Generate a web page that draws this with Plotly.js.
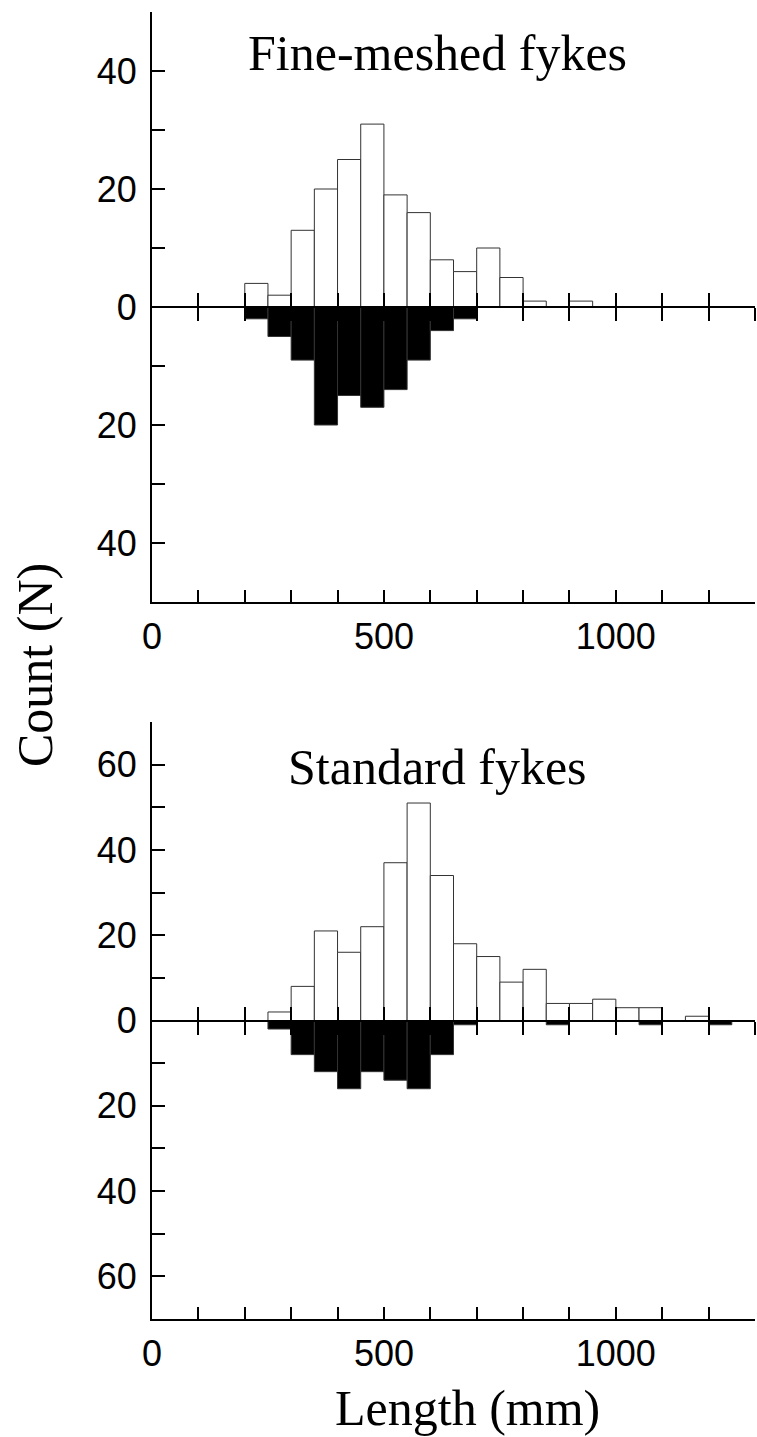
<!DOCTYPE html>
<html>
<head>
<meta charset="utf-8">
<script src="https://cdn.plot.ly/plotly-3.0.1.min.js"></script>
<style>html,body{margin:0;padding:0;background:#fff;}#chart{width:757px;height:1437px;}</style>
</head>
<body>
<div id="chart"></div>
<script>
// Bin start of each 50 mm length class (mm)
const binStart = [200,250,300,350,400,450,500,550,600,650,700,750,800,850,900,950,1000,1050,1100,1150,1200];
const binWidth = 50;
// Fine-meshed fykes: counts above (white) and below (black) the zero line
const fineAbove = [4,2,13,20,25,31,19,16,8,6,10,5,1,0,1,0,0,0,0,0,0];
const fineBelow = [2,5,9,20,15,17,14,9,4,2,0,0,0,0,0,0,0,0,0,0,0];
// Standard fykes
const stdAbove  = [0,2,8,21,16,22,37,51,34,18,15,9,12,4,4,5,3,3,0,1,0];
const stdBelow  = [0,2,8,12,16,12,14,16,8,1,0,0,0,1,0,0,0,1,0,0,1];
// Axis tick values / labels
const xTickVals = [0,100,200,300,400,500,600,700,800,900,1000,1100,1200,1300];
const xTickText = ['0','','','','','500','','','','','1000','','',''];
const yTopVals = [-50,-40,-30,-20,-10,0,10,20,30,40,50];
const yTopText = ['','40','','20','','0','','20','','40',''];
const yBotVals = [-70,-60,-50,-40,-30,-20,-10,0,10,20,30,40,50,60,70];
const yBotText = ['','60','','40','','20','','0','','20','','40','','60',''];

const W = 757, H = 1437;
const xDom = [152/W, 755/W];
const yDomTop = [1-602/H, 1-12/H];
const yDomBot = [1-1319/H, 1-722/H];
const zeroTop = (yDomTop[0]+yDomTop[1])/2;
const zeroBot = (yDomBot[0]+yDomBot[1])/2;

const tickFont = {family:'Liberation Sans, Arial, sans-serif', size:36, color:'#000'};
const serif = 'Liberation Serif, Times New Roman, serif';

function barTrace(vals, neg, xa, ya, fill){
  return {
    type:'bar', x: binStart, y: vals.map(v => neg ? -v : v),
    width: binWidth, offset: 0, xaxis: xa, yaxis: ya,
    marker:{color: fill, line:{color:'#333', width:1}},
    hoverinfo:'skip', showlegend:false
  };
}
function helper(xa, ya){
  return {type:'scatter', x:[], y:[], xaxis:xa, yaxis:ya, hoverinfo:'skip', showlegend:false};
}

const data = [
  barTrace(fineAbove, false, 'x', 'y', '#fff'),
  barTrace(fineBelow, true, 'x', 'y', '#000'),
  barTrace(stdAbove, false, 'x2', 'y2', '#fff'),
  barTrace(stdBelow, true, 'x2', 'y2', '#000'),
  helper('x3','y'), helper('x4','y'), helper('x5','y2'), helper('x6','y2')
];

function mainX(anchor){
  return {domain: xDom, range:[0,1300], anchor: anchor, showline:true, linewidth:2, linecolor:'#000',
    ticks:'inside', ticklen:12, tickwidth:2, tickcolor:'#000', tickvals:xTickVals, ticktext:xTickText,
    tickfont: tickFont, ticklabelstandoff: 2, showgrid:false, zeroline:false, fixedrange:true};
}
function mainY(anchor, dom, rng, vals, text){
  return {domain: dom, range: rng, anchor: anchor, showline:true, linewidth:2, linecolor:'#000',
    ticks:'inside', ticklen:13, tickwidth:2, tickcolor:'#000', tickvals: vals, ticktext: text,
    tickfont: tickFont, ticklabelstandoff: 6, showgrid:false, zeroline:false, fixedrange:true};
}
function zeroX(over, pos, dir){
  return {overlaying: over, anchor:'free', position: pos, range:[0,1300], side:'bottom',
    showline:true, linewidth:2, linecolor:'#000', ticks: dir, ticklen:13, tickwidth:2, tickcolor:'#000',
    tickvals: xTickVals.slice(1), showticklabels:false, showgrid:false, zeroline:false, fixedrange:true};
}

const layout = {
  width: W, height: H, margin:{l:0,r:0,t:0,b:0},
  paper_bgcolor:'#fff', plot_bgcolor:'rgba(0,0,0,0)',
  barmode:'overlay', bargap:0, showlegend:false,
  xaxis: mainX('y'),
  yaxis: mainY('x', yDomTop, [-50,50], yTopVals, yTopText),
  xaxis2: mainX('y2'),
  yaxis2: mainY('x2', yDomBot, [-70,70], yBotVals, yBotText),
  xaxis3: zeroX('x', zeroTop, 'outside'),
  xaxis4: zeroX('x', zeroTop, 'inside'),
  xaxis5: zeroX('x2', zeroBot, 'outside'),
  xaxis6: zeroX('x2', zeroBot, 'inside'),
  annotations: [
    {text:'Fine-meshed fykes', xref:'x', yref:'y', x:615, y:43, showarrow:false,
     font:{family:serif, size:50, color:'#000'}, xanchor:'center', yanchor:'middle'},
    {text:'Standard fykes', xref:'x2', yref:'y2', x:615, y:59.5, showarrow:false,
     font:{family:serif, size:50, color:'#000'}, xanchor:'center', yanchor:'middle'},
    {text:'Count (N)', xref:'paper', yref:'paper', x:35/W, y:1-665/H, textangle:-90, showarrow:false,
     font:{family:serif, size:50, color:'#000'}, xanchor:'center', yanchor:'middle'},
    {text:'Length (mm)', xref:'paper', yref:'paper', x:467/W, y:1-1408/H, showarrow:false,
     font:{family:serif, size:50, color:'#000'}, xanchor:'center', yanchor:'middle'}
  ]
};

Plotly.newPlot('chart', data, layout, {displayModeBar:false, staticPlot:true});
</script>
</body>
</html>
